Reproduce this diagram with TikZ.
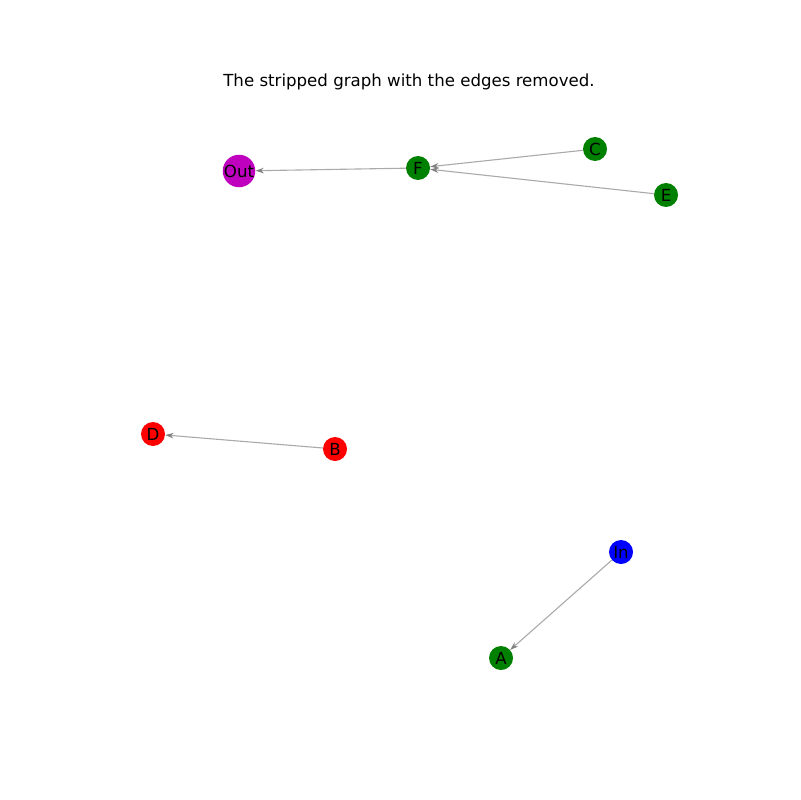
\documentclass[tikz,border=0pt]{standalone}
\usepackage{fontspec}
\setmainfont{DejaVu Sans}
\usetikzlibrary{arrows.meta}
\definecolor{ngreen}{HTML}{008000}
\definecolor{nmag}{HTML}{BF00BF}
\definecolor{edgec}{HTML}{AAAAAA}
\tikzset{
  vtx/.style={circle,inner sep=0pt,minimum size=24\pxu,font=\fontsize{12}{12}\selectfont},
  edg/.style={draw=edgec,line width=0.8pt,-{Stealth[length=6pt,width=4pt,color=gray]},shorten >=0pt}
}
\newlength{\pxu}\setlength{\pxu}{0.01in}
\begin{document}
\begin{tikzpicture}[x=0.01in,y=-0.01in]
\useasboundingbox (0,0) rectangle (800,800);
\node[font=\fontsize{12}{12}\selectfont] (title) at (409,82) {The stripped graph with the edges removed.};
\node[vtx,fill=nmag] (Out) at (239,171) {Out};
\node[vtx,fill=ngreen] (F) at (418,168) {F};
\node[vtx,fill=ngreen] (C) at (595,149) {C};
\node[vtx,fill=ngreen] (E) at (666,195) {E};
\node[vtx,fill=red] (D) at (153,434) {D};
\node[vtx,fill=red] (B) at (335,449) {B};
\node[vtx,fill=blue] (In) at (621,552) {In};
\node[vtx,fill=ngreen] (A) at (501,658) {A};
\draw[edg] (F) -- (Out);
\draw[edg] (C) -- (F);
\draw[edg] (E) -- (F);
\draw[edg] (B) -- (D);
\draw[edg] (In) -- (A);
\end{tikzpicture}
\end{document}
